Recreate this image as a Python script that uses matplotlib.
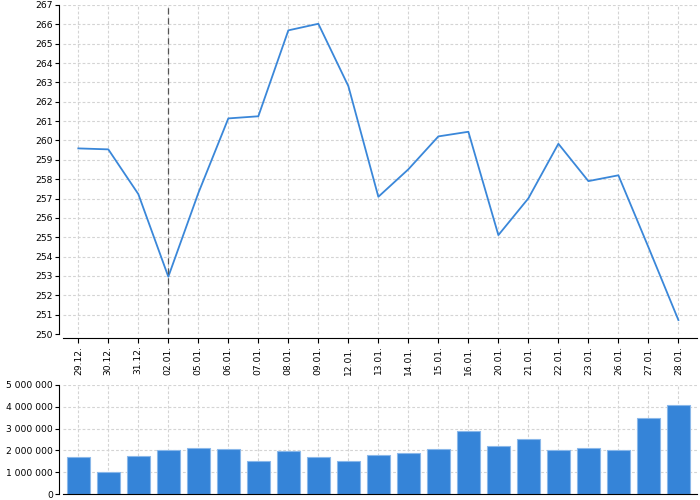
import matplotlib
matplotlib.use("Agg")
import matplotlib.pyplot as plt
from matplotlib.ticker import FuncFormatter

dates = ['29.12.', '30.12.', '31.12.', '02.01.', '05.01.', '06.01.', '07.01.',
         '08.01.', '09.01.', '12.01.', '13.01.', '14.01.', '15.01.', '16.01.',
         '20.01.', '21.01.', '22.01.', '23.01.', '26.01.', '27.01.', '28.01.']
price = [259.59, 259.54, 257.23, 252.96, 257.28, 261.14, 261.25,
         265.69, 266.03, 262.81, 257.09, 258.51, 260.21, 260.45,
         255.11, 257.01, 259.83, 257.90, 258.20, 254.49, 250.72]
volume = [1700000, 990000, 1760000, 2030000, 2100000, 2060000, 1500000,
          1990000, 1680000, 1500000, 1790000, 1890000, 2050000, 2880000,
          2200000, 2540000, 2000000, 2110000, 2030000, 3470000, 4080000]
marker_day = '02.01.'

line_color = '#3a87d9'
bar_color = '#3584d8'
fs = 6.6

x = list(range(len(dates)))
xlim = (-0.51, 20.62)

fig = plt.figure(figsize=(7, 5), dpi=100)
ax = fig.add_axes([63 / 700, 1 - 334 / 500, 634 / 700, 329 / 500])
ax2 = fig.add_axes([63 / 700, 1 - 494 / 500, 634 / 700, 109 / 500])

def style(a):
    for s in ['top', 'right']:
        a.spines[s].set_visible(False)
    a.spines['left'].set_position(('outward', 2.9))
    a.grid(True, color='#d4d4d4', linestyle=(0, (2.5, 1.8)), linewidth=0.8)
    a.set_axisbelow(True)
    a.tick_params(labelsize=fs, width=0.8, pad=1.8)
    a.tick_params(axis='y', length=2.6)
    a.tick_params(axis='x', length=3.6)
    a.set_xlim(*xlim)
    a.set_xticks(x)

# price line
style(ax)
ax.spines['bottom'].set_position(('outward', 2.9))
ax.plot(x, price, color=line_color, linewidth=1.3)
ax.axvline(dates.index(marker_day), color='#555555', linestyle=(0, (5, 3)), linewidth=0.9)
ax.set_ylim(250, 267)
ax.set_yticks(range(250, 268))
ax.set_xticklabels(dates, rotation=90)

# volume bars
style(ax2)
ax2.bar(x, volume, width=0.75, color=bar_color, edgecolor='#8ab8ea', linewidth=0.8)
ax2.set_ylim(0, 5000000)
ax2.set_yticks(range(0, 5000001, 1000000))
ax2.yaxis.set_major_formatter(FuncFormatter(lambda v, p: f'{int(v):,}'.replace(',', ' ')))
ax2.tick_params(axis='x', length=0, labelbottom=False)

fig.savefig('out.png', dpi=100)
